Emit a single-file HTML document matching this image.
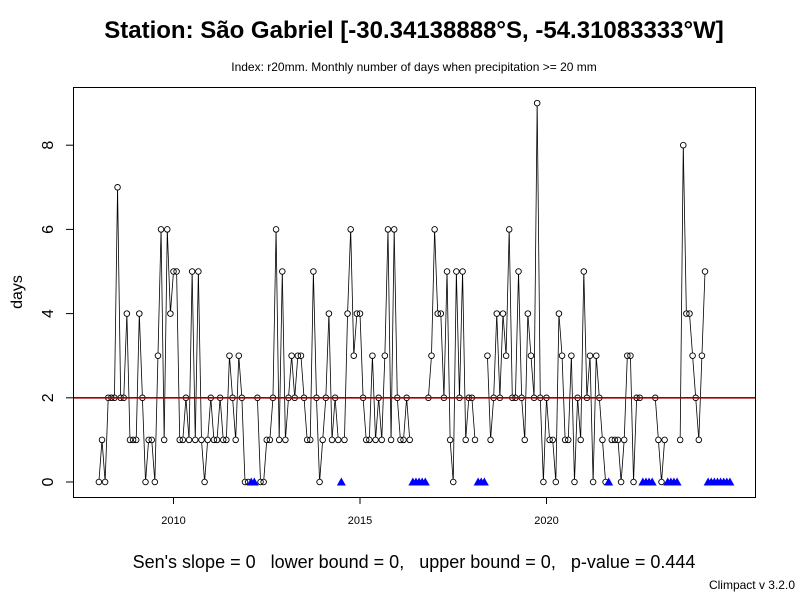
<!DOCTYPE html>
<html><head><meta charset="utf-8"><style>
body{margin:0;background:#fff}
svg{display:block;font-family:"Liberation Sans",sans-serif}
</style></head><body>
<svg id="chart" width="800" height="600" viewBox="0 0 800 600">
<rect width="800" height="600" fill="#fff"/>
<text x="414" y="38" text-anchor="middle" font-size="24" font-weight="bold">Station: São Gabriel [-30.34138888°S, -54.31083333°W]</text>
<text x="414" y="71" text-anchor="middle" font-size="12">Index: r20mm. Monthly number of days when precipitation &gt;= 20 mm</text>
<text x="22" y="292" text-anchor="middle" font-size="16" transform="rotate(-90 22 292)">days</text>
<text x="414" y="568" text-anchor="middle" font-size="18" style="white-space:pre" xml:space="preserve">Sen's slope = 0   lower bound = 0,   upper bound = 0,   p-value = 0.444</text>
<text x="795" y="589" text-anchor="end" font-size="12">Climpact v 3.2.0</text>
<g id="axes"></g>
<g id="marks"></g>
<rect x="73.5" y="87.5" width="682" height="410" fill="none" stroke="#000" stroke-width="1"/>
</svg>
<script>
const startYear = 2008;
const values = [
0,1,0,2,2,2,7,2,2,4,1,1,
1,4,2,0,1,1,0,3,6,1,6,4,
5,5,1,1,2,1,5,1,5,1,0,1,
2,1,1,2,1,1,3,2,1,3,2,0,
0,null,null,2,0,0,1,1,2,6,1,5,
1,2,3,2,3,3,2,1,1,5,2,0,
1,2,4,1,2,1,null,1,4,6,3,4,
4,2,1,1,3,1,2,1,3,6,1,6,
2,1,1,2,1,null,null,null,null,null,2,3,
6,4,4,2,5,1,0,5,2,5,1,2,
2,1,null,null,null,3,1,2,4,2,4,3,
6,2,2,5,2,1,4,3,2,9,2,0,
2,1,1,0,4,3,1,1,3,0,2,1,
5,2,3,0,3,2,1,0,null,1,1,1,
0,1,3,3,0,2,2,null,null,null,null,2,
1,0,1,null,null,null,null,1,8,4,4,3,
2,1,3,5,null,null,null,null,null,null,null,null
];
const xTicks = [2010, 2015, 2020];
const yTicks = [0, 2, 4, 6, 8];
const refLevel = [2];

const NS = "http://www.w3.org/2000/svg";
function xs(t){ return 173.5 + (t - 2010) * 37.3; }
function ys(v){ return 482 - v * 42.1; }
function mk(tag, attrs, parent){
  const e = document.createElementNS(NS, tag);
  for (const k in attrs) e.setAttribute(k, attrs[k]);
  parent.appendChild(e);
  return e;
}
const axes = document.getElementById('axes');
const marks = document.getElementById('marks');

yTicks.forEach(v => {
  const y = ys(v);
  const l = mk('line', {x1:66, x2:73.5, y1:y, y2:y, stroke:'#000'}, axes);
  
  
  const t = mk('text', {x:48, y:y, 'font-size':16, 'text-anchor':'middle', transform:'rotate(-90 48 '+y+')', dy:'5'}, axes);
  t.textContent = v;
  
  
});
xTicks.forEach(v => {
  const x = xs(v);
  const l = mk('line', {x1:x, x2:x, y1:497.5, y2:504, stroke:'#000'}, axes);
  
  
  const t = mk('text', {x:x, y:524, 'font-size':11, 'text-anchor':'middle'}, axes);
  t.textContent = v;
  
  
});

const r = 2.8;
for (let i = 0; i < values.length - 1; i++) {
  const a = values[i], b = values[i+1];
  if (a === null || b === null) continue;
  const x1 = xs(startYear + i/12), y1 = ys(a), x2 = xs(startYear + (i+1)/12), y2 = ys(b);
  const dx = x2-x1, dy = y2-y1, d = Math.hypot(dx, dy);
  if (d <= 2*r + 0.5) continue;
  const ux = dx/d, uy = dy/d;
  const s = mk('line', {x1:x1+ux*r, y1:y1+uy*r, x2:x2-ux*r, y2:y2-uy*r, stroke:'#000', 'stroke-width':0.8}, marks);
  
  
}
values.forEach((v, i) => {
  const x = xs(startYear + i/12);
  if (v === null) {
    const y = ys(0);
    const p = mk('polygon', {points:(x-4.5)+','+(y+3.5)+' '+(x+4.5)+','+(y+3.5)+' '+x+','+(y-4.5), fill:'#0000ff'}, marks);
    
    
  } else {
    const c = mk('circle', {cx:x, cy:ys(v), r:r, fill:'none', stroke:'#000', 'stroke-width':0.9}, marks);
    
    
  }
});
refLevel.forEach(v => {
  const l = mk('line', {x1:73.5, x2:755.5, y1:ys(v), y2:ys(v), stroke:'#a00000', 'stroke-width':1.6}, marks);
  
  
});
</script>
</body></html>
